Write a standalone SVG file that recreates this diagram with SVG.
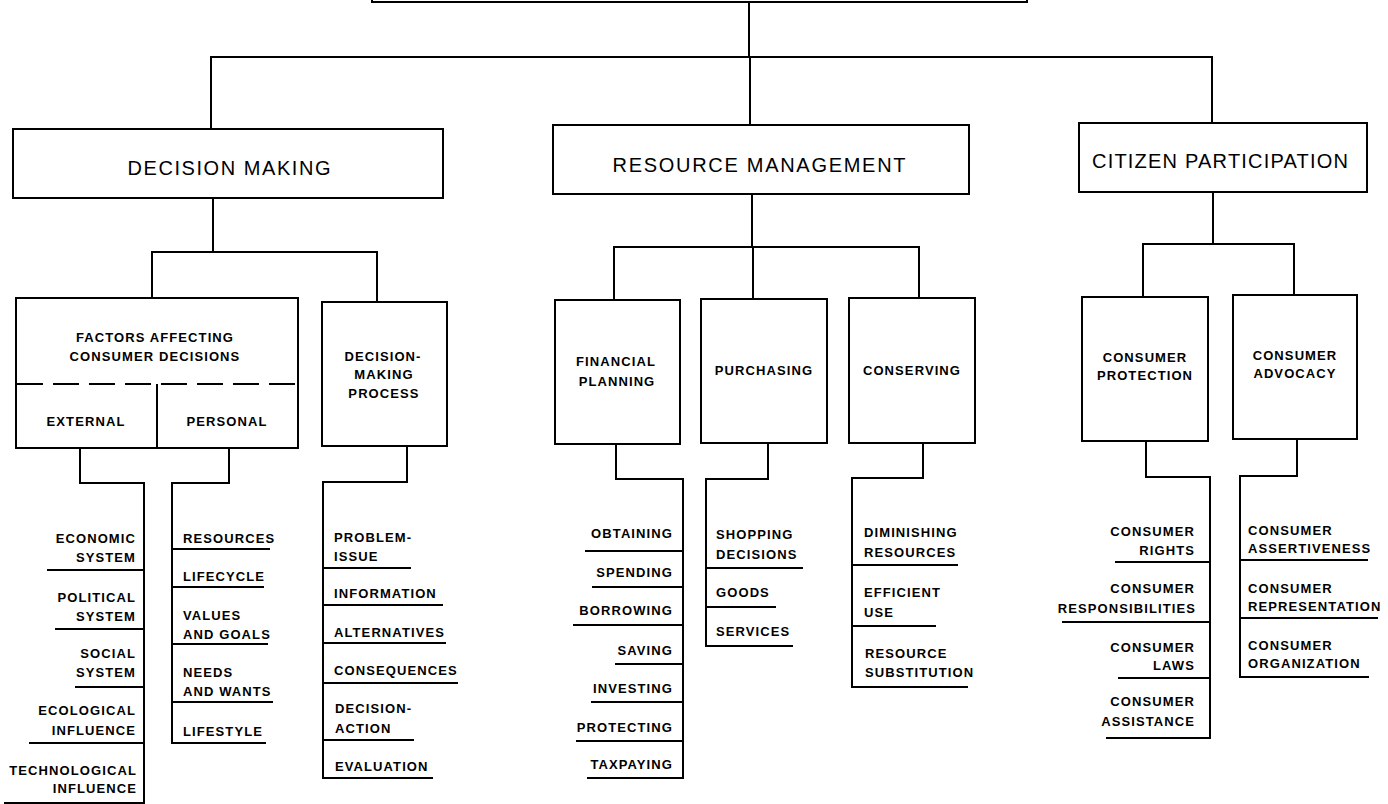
<svg xmlns="http://www.w3.org/2000/svg" width="1388" height="804" viewBox="0 0 1388 804">
<style>
.bg{fill:#fff}
.box{fill:#fff;stroke:#000;stroke-width:2}
.ln{fill:none;stroke:#000;stroke-width:2;stroke-linecap:square}
.dash{fill:none;stroke:#000;stroke-width:2;stroke-dasharray:26 10}
text{font-family:"Liberation Sans",Arial,sans-serif;fill:#000}
.h1{font-size:20px;letter-spacing:2px;text-anchor:middle}
.h2{font-size:13px;letter-spacing:1.1px;text-anchor:middle;font-weight:bold}
.it{font-size:13px;letter-spacing:1.1px;font-weight:bold}
.r{text-anchor:end}
</style>
<rect class="bg" x="0" y="0" width="1388" height="804"/>

<g id="connectors">
  <path class="ln" d="M749,2 V57 M211,57 H1212 M211,57 V129 M750,57 V125 M1212,57 V123"/>
  <path class="ln" d="M213,198 V252 M152,252 H377 M152,252 V298 M377,252 V302"/>
  <path class="ln" d="M752,194 V247 M614,247 H919 M614,247 V300 M753,247 V299 M919,247 V298"/>
  <path class="ln" d="M1213,192 V244 M1143,244 H1294 M1143,244 V297 M1294,244 V295"/>
  <path class="ln" d="M80,448 V483 H144 V803"/>
  <path class="ln" d="M229,448 V483 H172 V743"/>
  <path class="ln" d="M407,446 V482 H323 V778"/>
  <path class="ln" d="M616,444 V479 H683 V778"/>
  <path class="ln" d="M768,443 V479 H706 V646"/>
  <path class="ln" d="M923,443 V478 H852 V687"/>
  <path class="ln" d="M1146,441 V477 H1210 V737"/>
  <path class="ln" d="M1297,439 V476 H1240 V677"/>
</g>

<g id="root"><rect class="box" x="372" y="-40" width="655" height="42"/></g>

<g id="decision-making"><rect class="box" x="13" y="129" width="430" height="69"/><text class="h1" x="230" y="175" textLength="205" lengthAdjust="spacing">DECISION MAKING</text></g>
<g id="resource-management"><rect class="box" x="553" y="125" width="416" height="69"/><text class="h1" x="760" y="172" textLength="295" lengthAdjust="spacing">RESOURCE MANAGEMENT</text></g>
<g id="citizen-participation"><rect class="box" x="1079" y="123" width="288" height="69"/><text class="h1" x="1221" y="168" textLength="258" lengthAdjust="spacing">CITIZEN PARTICIPATION</text></g>

<g id="factors">
  <rect class="box" x="16" y="298" width="282" height="150"/>
  <line class="dash" x1="17" y1="384" x2="297" y2="384"/>
  <line class="ln" x1="157" y1="385" x2="157" y2="447"/>
  <text class="h2" x="155" y="342">FACTORS AFFECTING</text>
  <text class="h2" x="155" y="361">CONSUMER DECISIONS</text>
  <text class="h2" x="86" y="426">EXTERNAL</text>
  <text class="h2" x="227" y="426">PERSONAL</text>
</g>
<g id="decision-making-process"><rect class="box" x="322" y="302" width="125" height="144"/>
  <text class="h2" x="383" y="361">DECISION-</text><text class="h2" x="384" y="379">MAKING</text><text class="h2" x="384" y="398">PROCESS</text></g>
<g id="financial-planning"><rect class="box" x="555" y="300" width="125" height="144"/>
  <text class="h2" x="616" y="366">FINANCIAL</text><text class="h2" x="617" y="386">PLANNING</text></g>
<g id="purchasing"><rect class="box" x="701" y="299" width="126" height="144"/>
  <text class="h2" x="764" y="375">PURCHASING</text></g>
<g id="conserving"><rect class="box" x="849" y="298" width="126" height="145"/>
  <text class="h2" x="912" y="375">CONSERVING</text></g>
<g id="consumer-protection"><rect class="box" x="1082" y="297" width="126" height="144"/>
  <text class="h2" x="1145" y="362">CONSUMER</text><text class="h2" x="1145" y="380">PROTECTION</text></g>
<g id="consumer-advocacy"><rect class="box" x="1233" y="295" width="124" height="144"/>
  <text class="h2" x="1295" y="360">CONSUMER</text><text class="h2" x="1295" y="378">ADVOCACY</text></g>

<!-- External -->
<g id="economic-system"><text class="it r" x="136" y="543">ECONOMIC</text><text class="it r" x="136" y="562">SYSTEM</text><line class="ln" x1="48" y1="570" x2="144" y2="570"/></g>
<g id="political-system"><text class="it r" x="136" y="602">POLITICAL</text><text class="it r" x="136" y="621">SYSTEM</text><line class="ln" x1="56" y1="629" x2="144" y2="629"/></g>
<g id="social-system"><text class="it r" x="136" y="658">SOCIAL</text><text class="it r" x="136" y="677">SYSTEM</text><line class="ln" x1="76" y1="687" x2="144" y2="687"/></g>
<g id="ecological-influence"><text class="it r" x="136" y="715">ECOLOGICAL</text><text class="it r" x="136" y="735">INFLUENCE</text><line class="ln" x1="30" y1="743" x2="144" y2="743"/></g>
<g id="technological-influence"><text class="it r" x="137" y="775">TECHNOLOGICAL</text><text class="it r" x="137" y="793">INFLUENCE</text><line class="ln" x1="5" y1="803" x2="144" y2="803"/></g>

<!-- Personal -->
<g id="resources"><text class="it" x="183" y="543">RESOURCES</text><line class="ln" x1="172" y1="549" x2="269" y2="549"/></g>
<g id="lifecycle"><text class="it" x="183" y="581">LIFECYCLE</text><line class="ln" x1="172" y1="587" x2="263" y2="587"/></g>
<g id="values-goals"><text class="it" x="183" y="620">VALUES</text><text class="it" x="183" y="639">AND GOALS</text><line class="ln" x1="172" y1="644" x2="267" y2="644"/></g>
<g id="needs-wants"><text class="it" x="183" y="677">NEEDS</text><text class="it" x="183" y="696">AND WANTS</text><line class="ln" x1="172" y1="702" x2="272" y2="702"/></g>
<g id="lifestyle"><text class="it" x="183" y="736">LIFESTYLE</text><line class="ln" x1="172" y1="743" x2="265" y2="743"/></g>

<!-- Decision-making process -->
<g id="problem-issue"><text class="it" x="334" y="542">PROBLEM-</text><text class="it" x="334" y="561">ISSUE</text><line class="ln" x1="323" y1="568" x2="410" y2="568"/></g>
<g id="information"><text class="it" x="334" y="598">INFORMATION</text><line class="ln" x1="323" y1="605" x2="442" y2="605"/></g>
<g id="alternatives"><text class="it" x="334" y="637">ALTERNATIVES</text><line class="ln" x1="323" y1="643" x2="445" y2="643"/></g>
<g id="consequences"><text class="it" x="334" y="675">CONSEQUENCES</text><line class="ln" x1="323" y1="683" x2="457" y2="683"/></g>
<g id="decision-action"><text class="it" x="335" y="713">DECISION-</text><text class="it" x="335" y="733">ACTION</text><line class="ln" x1="323" y1="740" x2="413" y2="740"/></g>
<g id="evaluation"><text class="it" x="335" y="771">EVALUATION</text><line class="ln" x1="323" y1="778" x2="432" y2="778"/></g>

<!-- Financial planning -->
<g id="obtaining"><text class="it r" x="673" y="538">OBTAINING</text><line class="ln" x1="586" y1="551" x2="683" y2="551"/></g>
<g id="spending"><text class="it r" x="673" y="577">SPENDING</text><line class="ln" x1="593" y1="587" x2="683" y2="587"/></g>
<g id="borrowing"><text class="it r" x="673" y="615">BORROWING</text><line class="ln" x1="574" y1="625" x2="683" y2="625"/></g>
<g id="saving"><text class="it r" x="673" y="655">SAVING</text><line class="ln" x1="616" y1="664" x2="683" y2="664"/></g>
<g id="investing"><text class="it r" x="673" y="693">INVESTING</text><line class="ln" x1="592" y1="702" x2="683" y2="702"/></g>
<g id="protecting"><text class="it r" x="673" y="732">PROTECTING</text><line class="ln" x1="577" y1="741" x2="683" y2="741"/></g>
<g id="taxpaying"><text class="it r" x="673" y="769">TAXPAYING</text><line class="ln" x1="588" y1="778" x2="683" y2="778"/></g>

<!-- Purchasing -->
<g id="shopping-decisions"><text class="it" x="716" y="539">SHOPPING</text><text class="it" x="716" y="559">DECISIONS</text><line class="ln" x1="706" y1="568" x2="802" y2="568"/></g>
<g id="goods"><text class="it" x="716" y="597">GOODS</text><line class="ln" x1="706" y1="607" x2="775" y2="607"/></g>
<g id="services"><text class="it" x="716" y="636">SERVICES</text><line class="ln" x1="706" y1="646" x2="792" y2="646"/></g>

<!-- Conserving -->
<g id="diminishing-resources"><text class="it" x="864" y="537">DIMINISHING</text><text class="it" x="864" y="557">RESOURCES</text><line class="ln" x1="852" y1="565" x2="957" y2="565"/></g>
<g id="efficient-use"><text class="it" x="864" y="597">EFFICIENT</text><text class="it" x="864" y="617">USE</text><line class="ln" x1="852" y1="626" x2="935" y2="626"/></g>
<g id="resource-substitution"><text class="it" x="865" y="658">RESOURCE</text><text class="it" x="865" y="677">SUBSTITUTION</text><line class="ln" x1="852" y1="687" x2="967" y2="687"/></g>

<!-- Consumer protection -->
<g id="consumer-rights"><text class="it r" x="1195" y="536">CONSUMER</text><text class="it r" x="1195" y="555">RIGHTS</text><line class="ln" x1="1116" y1="562" x2="1210" y2="562"/></g>
<g id="consumer-responsibilities"><text class="it r" x="1195" y="593">CONSUMER</text><text class="it r" x="1196" y="613">RESPONSIBILITIES</text><line class="ln" x1="1063" y1="622" x2="1210" y2="622"/></g>
<g id="consumer-laws"><text class="it r" x="1195" y="652">CONSUMER</text><text class="it r" x="1195" y="670">LAWS</text><line class="ln" x1="1119" y1="678" x2="1210" y2="678"/></g>
<g id="consumer-assistance"><text class="it r" x="1195" y="706">CONSUMER</text><text class="it r" x="1195" y="726">ASSISTANCE</text><line class="ln" x1="1107" y1="738" x2="1210" y2="738"/></g>

<!-- Consumer advocacy -->
<g id="consumer-assertiveness"><text class="it" x="1248" y="535">CONSUMER</text><text class="it" x="1248" y="553">ASSERTIVENESS</text><line class="ln" x1="1240" y1="560" x2="1367" y2="560"/></g>
<g id="consumer-representation"><text class="it" x="1248" y="593">CONSUMER</text><text class="it" x="1248" y="611">REPRESENTATION</text><line class="ln" x1="1240" y1="618" x2="1377" y2="618"/></g>
<g id="consumer-organization"><text class="it" x="1248" y="650">CONSUMER</text><text class="it" x="1248" y="668">ORGANIZATION</text><line class="ln" x1="1240" y1="677" x2="1368" y2="677"/></g>
</svg>
